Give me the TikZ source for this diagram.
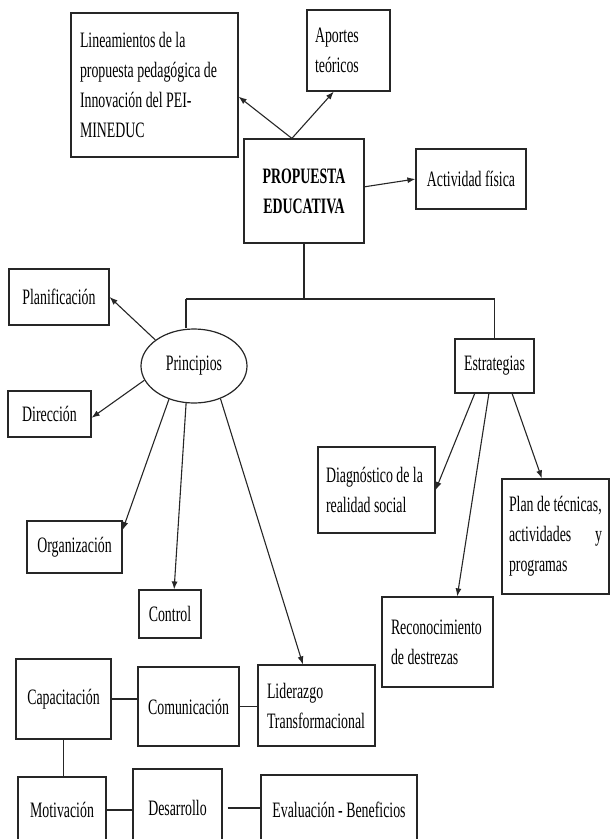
\documentclass[tikz,border=0pt]{standalone}
\usepackage{fontspec}
\setmainfont{Liberation Serif}[FakeStretch=0.63]
\usetikzlibrary{shapes.geometric,arrows.meta,calc}
\begin{document}
\begin{tikzpicture}[x=1pt,y=-1pt,
  bx/.style={draw=black!85, line width=1.2pt, inner sep=0pt, text=black,
    font=\fontsize{22}{30}\selectfont},
  ml/.style={align=flush left},
  con/.style={draw=black!85, line width=1.1pt},
  arr/.style={con, -{Latex[length=8pt,width=6pt]}}]
\useasboundingbox (0,0) rectangle (610,839);
\clip (0,0) rectangle (610,839);
% boxes
\node[bx, ml, minimum width=167pt, minimum height=144pt, text width=149pt] (lin) at (154.5,85)
  {\mbox{Lineamientos de la}\\\mbox{propuesta pedagógica de}\\\mbox{Innovación del PEI-}\\\mbox{MINEDUC}};
\node[bx, ml, minimum width=83pt, minimum height=81pt, text width=67pt] (apo) at (348.5,50.5)
  {\mbox{Aportes}\\\mbox{teóricos}};
\node[bx, minimum width=120pt, minimum height=104pt, align=center, font=\fontsize{22}{30}\selectfont\bfseries] (prop) at (304,191)
  {PROPUESTA\\EDUCATIVA};
\node[bx, minimum width=110pt, minimum height=60pt] (act) at (471,179) {Actividad física};
\node[bx, minimum width=100pt, minimum height=56pt] (planif) at (59,297) {Planificación};
\node[bx, shape=ellipse, minimum width=106pt, minimum height=74pt] (princ) at (194,366) {Principios};
\node[bx, minimum width=79pt, minimum height=54pt] (estr) at (494.5,366) {Estrategias};
\node[bx, minimum width=83pt, minimum height=46pt] (dir) at (49.5,414) {Dirección};
\node[bx, ml, minimum width=117pt, minimum height=86pt, text width=101pt] (diag) at (376.5,490)
  {\mbox{Diagnóstico de la}\\\mbox{realidad social}};
\node[bx, ml, minimum width=107pt, minimum height=115pt, text width=93pt] (planT) at (555.5,536.5)
  {\mbox{Plan de técnicas,}\\\mbox{}actividades\hfill y\\\mbox{programas}};
\node[bx, minimum width=95pt, minimum height=52pt] (org) at (74.5,547) {Organización};
\node[bx, minimum width=62pt, minimum height=48pt] (ctrl) at (170,614) {Control};
\node[bx, ml, minimum width=111pt, minimum height=90pt, text width=93pt] (rec) at (437.5,642)
  {\mbox{Reconocimiento}\\\mbox{de destrezas}};
\node[bx, minimum width=95pt, minimum height=80pt] (cap) at (63.5,699) {Capacitación};
\node[bx, minimum width=101pt, minimum height=79pt] (com) at (188.5,706.5) {Comunicación};
\node[bx, ml, minimum width=117pt, minimum height=81pt, text width=99pt] (lid) at (316.5,705.5)
  {\mbox{Liderazgo}\\\mbox{Transformacional}};
\node[bx, minimum width=88pt, minimum height=66pt] (mot) at (62,810) {Motivación};
\node[bx, minimum width=89pt, minimum height=78pt] (des) at (177.5,808) {Desarrollo};
\node[bx, minimum width=156pt, minimum height=70pt] (eva) at (339,810) {Evaluación - Beneficios};
% connectors from the central box
\draw[arr] ($(prop.north west)!0.4!(prop.north east)$) -- ($(lin.north east)!0.58!(lin.south east)$);
\draw[arr] ($(prop.north west)!0.4!(prop.north east)$) -- ($(apo.south west)!0.325!(apo.south east)$);
\draw[arr] ($(prop.north east)!0.46!(prop.south east)$) -- (act.west);
% tree
\coordinate (bar) at (304,299);
\coordinate (bl) at (186,299);
\coordinate (br) at (estr.north |- bar);
\draw[con] (prop.south) -- (bar);
\draw[con] (bl) -- (br);
\draw[con] (bl) -- (bl |- princ.north);
\draw[con] (br) -- (estr.north);
% principios
\draw[arr] (princ.146) -- (planif.east);
\draw[arr] (princ.196) -- ($(dir.north east)!0.58!(dir.south east)$);
\draw[arr] (princ.233) -- ($(org.north east)!0.18!(org.south east)$);
\draw[arr] (princ.258) -- ($(ctrl.north west)!0.565!(ctrl.north east)$);
\draw[arr] (princ.309) -- ($(lid.north west)!0.385!(lid.north east)$);
% estrategias
\draw[arr] ($(estr.south west)!0.253!(estr.south east)$) -- (diag.east);
\draw[arr] ($(estr.south west)!0.43!(estr.south east)$) -- ($(rec.north west)!0.676!(rec.north east)$);
\draw[arr] ($(estr.south west)!0.72!(estr.south east)$) -- ($(planT.north west)!0.374!(planT.north east)$);
% plain lines
\draw[con] (cap.east) -- (cap.east -| com.west);
\draw[con] (com.east) -- (com.east -| lid.west);
\draw[con] (cap.south) -- (cap.south |- mot.north);
\draw[con] (mot.east) -- (mot.east -| des.west);
\draw[con] ([xshift=5pt]des.east) -- (des.east -| eva.west);
\end{tikzpicture}
\end{document}
